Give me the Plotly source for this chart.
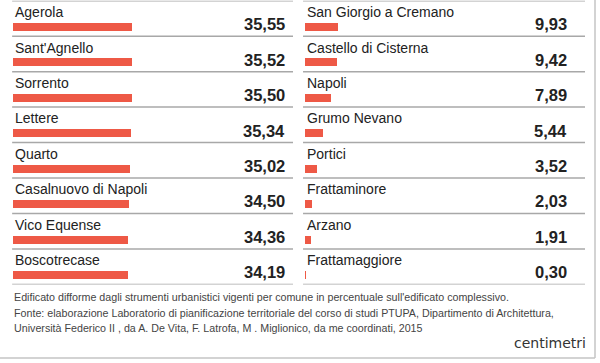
import plotly.graph_objects as go

# ---- data ----
left_names = ["Agerola", "Sant'Agnello", "Sorrento", "Lettere", "Quarto",
              "Casalnuovo di Napoli", "Vico Equense", "Boscotrecase"]
left_values = [35.55, 35.52, 35.50, 35.34, 35.02, 34.50, 34.36, 34.19]
right_names = ["San Giorgio a Cremano", "Castello di Cisterna", "Napoli", "Grumo Nevano",
               "Portici", "Frattaminore", "Arzano", "Frattamaggiore"]
right_values = [9.93, 9.42, 7.89, 5.44, 3.52, 2.03, 1.91, 0.30]
footer_lines = [
    "Edificato difforme dagli strumenti urbanistici vigenti per comune in percentuale sull'edificato complessivo.",
    "Fonte: elaborazione Laboratorio di pianificazione territoriale del corso di studi PTUPA, Dipartimento di Architettura,",
    "Università Federico II , da A. De Vita, F. Latrofa, M . Miglionico, da me coordinati, 2015",
]
brand = "centimetri"

W, H = 600, 363
BAR = "#EE5946"
TXT = "#222222"
SEP = "#a8a8a8"
XMAX = 83.7

def fmt(v):
    return f"{v:.2f}".replace(".", ",")

fig = go.Figure()
rows = list(range(len(left_names)))

for names, vals, xa, ya in [(left_names, left_values, "x", "y"), (right_names, right_values, "x2", "y")]:
    fig.add_trace(go.Bar(
        x=vals, y=[r + 0.73 for r in rows], orientation="h", width=0.225,
        marker=dict(color=BAR, line=dict(width=0)), xaxis=xa, yaxis=ya,
        hoverinfo="skip", showlegend=False))

annotations = []
shapes = []
font_lab = "Liberation Sans, Arial, sans-serif"
for names, vals, xref, vx in [(left_names, left_values, "x domain", 0.98),
                              (right_names, right_values, "x2 domain", 0.944)]:
    for i, (n, v) in enumerate(zip(names, vals)):
        annotations.append(dict(text=n, x=0, y=i + 0.32, xref=xref, yref="y",
                                xanchor="left", yanchor="middle", showarrow=False,
                                font=dict(family=font_lab, size=14, color=TXT)))
        annotations.append(dict(text=f"<b>{fmt(v)}</b>", x=vx, y=i + 0.66, xref=xref, yref="y",
                                xanchor="right", yanchor="middle", showarrow=False,
                                font=dict(family=font_lab, size=16.5, color=TXT)))

# separators
for xref, x0, x1 in [("x domain", -0.002, 1.0), ("x2 domain", -0.007, 1.0)]:
    for k in range(len(left_names) + 1):
        shapes.append(dict(type="line", xref=xref, yref="y", x0=x0, x1=x1, y0=k, y1=k,
                           line=dict(color=SEP, width=1.5)))

# outer box border (right and bottom)
shapes.append(dict(type="line", xref="paper", yref="paper", x0=595 / W, x1=595 / W,
                   y0=1 - 358 / H, y1=1, line=dict(color="#c4c4c4", width=1.5)))
shapes.append(dict(type="line", xref="paper", yref="paper", x0=0, x1=595 / W,
                   y0=1 - 358 / H, y1=1 - 358 / H, line=dict(color="#c4c4c4", width=1.5)))

font_foot = "Liberation Sans, Arial, sans-serif"
for j, line in enumerate(footer_lines):
    annotations.append(dict(text=line, x=12 / W, y=1 - (297 + 15.5 * j) / H, xref="paper", yref="paper",
                            xanchor="left", yanchor="middle", showarrow=False,
                            font=dict(family=font_foot, size=10.7, color="#444444")))
annotations.append(dict(text=brand, x=588 / W, y=1 - 343 / H, xref="paper", yref="paper",
                        xanchor="right", yanchor="middle", showarrow=False,
                        font=dict(family="DejaVu Sans, sans-serif", size=14, color="#333333")))

fig.update_layout(
    width=W, height=H, margin=dict(l=0, r=0, t=0, b=0),
    paper_bgcolor="white", plot_bgcolor="white",
    xaxis=dict(domain=[12.7 / W, 293 / W], range=[0, XMAX], visible=False, fixedrange=True),
    xaxis2=dict(domain=[305 / W, 585 / W], range=[0, XMAX], visible=False, fixedrange=True),
    yaxis=dict(domain=[1 - 284.5 / H, 1 - 0.7 / H], range=[8, 0], visible=False, fixedrange=True),
    bargap=0, annotations=annotations, shapes=shapes,
)
fig.write_html("out.html", config={"displayModeBar": False},
               post_script="document.body.style.margin='0';document.body.style.overflow='hidden';")
